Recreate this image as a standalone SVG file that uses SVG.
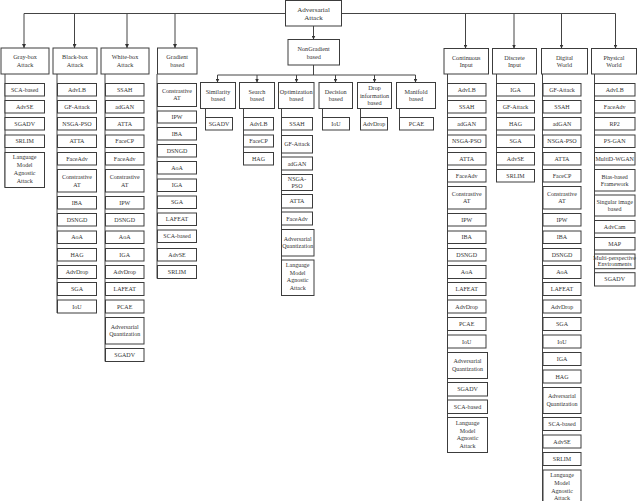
<svg xmlns="http://www.w3.org/2000/svg" width="640" height="501" viewBox="0 0 640 501">
<style>
rect{fill:#fff;stroke:#3c3c3c;stroke-width:1}
text{font-family:"Liberation Serif","Times New Roman",serif;font-size:6px;fill:#333;text-anchor:middle}
.h text{font-size:6.2px}
.top text{font-size:7px}
#connectors line,#connectors polyline{stroke:#444;stroke-width:1;fill:none}
</style>
<defs>
<marker id="ar" markerWidth="4" markerHeight="4" refX="4" refY="2" orient="auto" markerUnits="userSpaceOnUse">
<path d="M0,0 L4,2 L0,4 Z" fill="#333"/>
</marker>
</defs>
<rect x="0" y="0" width="640" height="501" style="fill:#fff;stroke:none"/>
<g id="connectors">
<line x1="24" y1="13.5" x2="615.5" y2="13.5"/>
<line x1="24" y1="13.5" x2="24" y2="48" marker-end="url(#ar)"/>
<line x1="74.5" y1="13.5" x2="74.5" y2="48" marker-end="url(#ar)"/>
<line x1="127" y1="13.5" x2="127" y2="48" marker-end="url(#ar)"/>
<line x1="175" y1="13.5" x2="175" y2="48" marker-end="url(#ar)"/>
<line x1="465.5" y1="13.5" x2="465.5" y2="48.5" marker-end="url(#ar)"/>
<line x1="514" y1="13.5" x2="514" y2="48.5" marker-end="url(#ar)"/>
<line x1="561.5" y1="13.5" x2="561.5" y2="48.5" marker-end="url(#ar)"/>
<line x1="615.5" y1="13.5" x2="615.5" y2="48.5" marker-end="url(#ar)"/>
<line x1="313.5" y1="26" x2="313.5" y2="39.5" marker-end="url(#ar)"/>
<line x1="313.5" y1="65" x2="313.5" y2="75"/>
<line x1="217.5" y1="75" x2="415.5" y2="75"/>
<line x1="217.5" y1="75" x2="217.5" y2="82.5" marker-end="url(#ar)"/>
<line x1="257" y1="75" x2="257" y2="82.5" marker-end="url(#ar)"/>
<line x1="296.5" y1="75" x2="296.5" y2="82.5" marker-end="url(#ar)"/>
<line x1="335.5" y1="75" x2="335.5" y2="82.5" marker-end="url(#ar)"/>
<line x1="374.5" y1="75" x2="374.5" y2="82.5" marker-end="url(#ar)"/>
<line x1="415.5" y1="75" x2="415.5" y2="82.5" marker-end="url(#ar)"/>
<line x1="5" y1="74" x2="5" y2="187.5"/>
<line x1="57" y1="74" x2="57" y2="313"/>
<line x1="105" y1="74" x2="105" y2="361.5"/>
<line x1="157" y1="74" x2="157" y2="278.5"/>
<line x1="205.5" y1="108.5" x2="205.5" y2="130"/>
<line x1="243.5" y1="108.5" x2="243.5" y2="165"/>
<line x1="281.5" y1="108.5" x2="281.5" y2="295.5"/>
<line x1="322.5" y1="108.5" x2="322.5" y2="130"/>
<line x1="360.5" y1="108.5" x2="360.5" y2="130"/>
<line x1="399.5" y1="108.5" x2="399.5" y2="130"/>
<line x1="447.5" y1="74" x2="447.5" y2="452.5"/>
<line x1="496.5" y1="74" x2="496.5" y2="182"/>
<line x1="542.5" y1="74" x2="542.5" y2="501"/>
<line x1="594.5" y1="74" x2="594.5" y2="286"/>
</g>

<g id="root" class="top"><rect x="285.5" y="0.5" width="56" height="25.5"/><text x="313.5" y="11.6">Adversarial</text><text x="313.5" y="20">Attack</text></g>

<g id="graybox" class="h"><rect x="1" y="48" width="48" height="26"/><text x="25" y="59.3">Gray-box</text><text x="25" y="67">Attack</text></g>
<g id="blackbox" class="h"><rect x="53" y="48" width="44" height="26"/><text x="75" y="59.3">Black-box</text><text x="75" y="67">Attack</text></g>
<g id="whitebox" class="h"><rect x="101" y="48" width="48" height="26"/><text x="125" y="59.3">White-box</text><text x="125" y="67">Attack</text></g>
<g id="gradient" class="h"><rect x="157.5" y="48" width="39.5" height="26"/><text x="177.2" y="59.3">Gradient</text><text x="177.2" y="67">based</text></g>
<g id="nongradient" class="h"><rect x="288" y="39.5" width="51.5" height="25.5"/><text x="313.7" y="51">NonGradient</text><text x="313.7" y="58.5">based</text></g>
<g id="similarity" class="h"><rect x="200.5" y="82.5" width="35" height="26"/><text x="218" y="94">Similarity</text><text x="218" y="101.3">based</text></g>
<g id="search" class="h"><rect x="239.5" y="82.5" width="35" height="26"/><text x="257" y="94">Search</text><text x="257" y="101.3">based</text></g>
<g id="optimization" class="h"><rect x="278.5" y="82.5" width="35.5" height="26"/><text x="296.2" y="94">Optimization</text><text x="296.2" y="101.3">based</text></g>
<g id="decision" class="h"><rect x="319" y="82.5" width="33.5" height="26"/><text x="335.7" y="94">Decision</text><text x="335.7" y="101.3">based</text></g>
<g id="drop" class="h"><rect x="357.5" y="82.5" width="34" height="26"/><text x="374.5" y="90.3">Drop</text><text x="374.5" y="97.7">information</text><text x="374.5" y="105.2">based</text></g>
<g id="manifold" class="h"><rect x="396.5" y="82.5" width="39" height="26"/><text x="416" y="94">Manifold</text><text x="416" y="101.3">based</text></g>
<g id="continuous" class="h"><rect x="444" y="48.5" width="44.5" height="25.5"/><text x="466.2" y="59.5">Continuous</text><text x="466.2" y="67.2">Input</text></g>
<g id="discrete" class="h"><rect x="492.5" y="48.5" width="44" height="25.5"/><text x="514.5" y="59.5">Discrete</text><text x="514.5" y="67.2">Input</text></g>
<g id="digital" class="h"><rect x="541.5" y="48.5" width="46" height="25.5"/><text x="564.5" y="59.5">Digital</text><text x="564.5" y="67.2">World</text></g>
<g id="physical" class="h"><rect x="591.5" y="48.5" width="45" height="25.5"/><text x="614" y="59.5">Physical</text><text x="614" y="67.2">World</text></g>

<!-- Gray-box children -->
<g id="g1"><rect x="5" y="83.5" width="39.5" height="12.5"/><text x="24.7" y="91.8">SCA-based</text></g>
<g id="g2"><rect x="5" y="100.5" width="39.5" height="12.5"/><text x="24.7" y="108.8">AdvSE</text></g>
<g id="g3"><rect x="5" y="117.5" width="39.5" height="12.5"/><text x="24.7" y="125.8">SGADV</text></g>
<g id="g4"><rect x="5" y="135" width="39.5" height="12.5"/><text x="24.7" y="143.3">SRLIM</text></g>
<g id="g5"><rect x="5" y="152.5" width="39.5" height="35"/><text x="24.7" y="158.8">Language</text><text x="24.7" y="166.8">Model</text><text x="24.7" y="174.6">Agnostic</text><text x="24.7" y="182.6">Attack</text></g>

<!-- Black-box children -->
<g id="b1"><rect x="57.5" y="83.5" width="39" height="12.5"/><text x="77" y="91.8">AdvLB</text></g>
<g id="b2"><rect x="57.5" y="100.5" width="39" height="12.5"/><text x="77" y="108.8">GF-Attack</text></g>
<g id="b3"><rect x="57.5" y="117.5" width="39" height="12.5"/><text x="77" y="125.8">NSGA-PSO</text></g>
<g id="b4"><rect x="57.5" y="135" width="39" height="12.5"/><text x="77" y="143.3">ATTA</text></g>
<g id="b5"><rect x="57.5" y="152.5" width="39" height="12.5"/><text x="77" y="160.8">FaceAdv</text></g>
<g id="b6"><rect x="57.5" y="169.5" width="39" height="22.5"/><text x="77" y="179">Constrastive</text><text x="77" y="186.5">AT</text></g>
<g id="b7"><rect x="57.5" y="196.5" width="39" height="12.5"/><text x="77" y="204.8">IBA</text></g>
<g id="b8"><rect x="57.5" y="213.5" width="39" height="12.5"/><text x="77" y="221.8">DSNGD</text></g>
<g id="b9"><rect x="57.5" y="231" width="39" height="12.5"/><text x="77" y="239.3">AoA</text></g>
<g id="b10"><rect x="57.5" y="248.5" width="39" height="12.5"/><text x="77" y="256.8">HAG</text></g>
<g id="b11"><rect x="57.5" y="265.5" width="39" height="13"/><text x="77" y="274">AdvDrop</text></g>
<g id="b12"><rect x="57.5" y="282.5" width="39" height="13"/><text x="77" y="291">SGA</text></g>
<g id="b13"><rect x="57.5" y="300" width="39" height="13"/><text x="77" y="308.5">IoU</text></g>

<!-- White-box children -->
<g id="w1"><rect x="105.5" y="83.5" width="38.5" height="12.5"/><text x="124.7" y="91.8">SSAH</text></g>
<g id="w2"><rect x="105.5" y="100.5" width="38.5" height="12.5"/><text x="124.7" y="108.8">adGAN</text></g>
<g id="w3"><rect x="105.5" y="117.5" width="38.5" height="12.5"/><text x="124.7" y="125.8">ATTA</text></g>
<g id="w4"><rect x="105.5" y="135" width="38.5" height="12.5"/><text x="124.7" y="143.3">FaceCP</text></g>
<g id="w5"><rect x="105.5" y="152.5" width="38.5" height="12.5"/><text x="124.7" y="160.8">FaceAdv</text></g>
<g id="w6"><rect x="105.5" y="169.5" width="38.5" height="22.5"/><text x="124.7" y="179">Constrastive</text><text x="124.7" y="186.5">AT</text></g>
<g id="w7"><rect x="105.5" y="196.5" width="38.5" height="12.5"/><text x="124.7" y="204.8">IPW</text></g>
<g id="w8"><rect x="105.5" y="213.5" width="38.5" height="12.5"/><text x="124.7" y="221.8">DSNGD</text></g>
<g id="w9"><rect x="105.5" y="231" width="38.5" height="12.5"/><text x="124.7" y="239.3">AoA</text></g>
<g id="w10"><rect x="105.5" y="248.5" width="38.5" height="12.5"/><text x="124.7" y="256.8">IGA</text></g>
<g id="w11"><rect x="105.5" y="265.5" width="38.5" height="13"/><text x="124.7" y="274">AdvDrop</text></g>
<g id="w12"><rect x="105.5" y="282.5" width="38.5" height="13"/><text x="124.7" y="291">LAFEAT</text></g>
<g id="w13"><rect x="105.5" y="300" width="38.5" height="13"/><text x="124.7" y="308.5">PCAE</text></g>
<g id="w14"><rect x="105.5" y="317.5" width="38.5" height="26.5"/><text x="124.7" y="329.3">Adversarial</text><text x="124.7" y="336.3">Quantization</text></g>
<g id="w15"><rect x="105.5" y="348.5" width="38.5" height="13"/><text x="124.7" y="357">SGADV</text></g>

<!-- Gradient children -->
<g id="gr1"><rect x="157.5" y="83.5" width="39" height="23"/><text x="177" y="92.8">Constrastive</text><text x="177" y="100.3">AT</text></g>
<g id="gr2"><rect x="157.5" y="111" width="39" height="12"/><text x="177" y="119">IPW</text></g>
<g id="gr3"><rect x="157.5" y="127.5" width="39" height="12.5"/><text x="177" y="135.8">IBA</text></g>
<g id="gr4"><rect x="157.5" y="144.5" width="39" height="12.5"/><text x="177" y="152.8">DSNGD</text></g>
<g id="gr5"><rect x="157.5" y="161.5" width="39" height="12.5"/><text x="177" y="169.8">AoA</text></g>
<g id="gr6"><rect x="157.5" y="179" width="39" height="12.5"/><text x="177" y="187.3">IGA</text></g>
<g id="gr7"><rect x="157.5" y="196" width="39" height="12.5"/><text x="177" y="204.3">SGA</text></g>
<g id="gr8"><rect x="157.5" y="213" width="39" height="12.5"/><text x="177" y="221.3">LAFEAT</text></g>
<g id="gr9"><rect x="157.5" y="230" width="39" height="12.5"/><text x="177" y="238.3">SCA-based</text></g>
<g id="gr10"><rect x="157.5" y="248.5" width="39" height="12.5"/><text x="177" y="256.8">AdvSE</text></g>
<g id="gr11"><rect x="157.5" y="265.5" width="39" height="13"/><text x="177" y="274">SRLIM</text></g>

<!-- NonGradient sub children -->
<g id="s1"><rect x="205.5" y="117.5" width="27" height="12.5"/><text x="219" y="125.8">SGADV</text></g>
<g id="se1"><rect x="243.5" y="117.5" width="30" height="12.5"/><text x="258.5" y="125.8">AdvLB</text></g>
<g id="se2"><rect x="243.5" y="135" width="30" height="12"/><text x="258.5" y="143">FaceCP</text></g>
<g id="se3"><rect x="243.5" y="152.5" width="30" height="12.5"/><text x="258.5" y="160.8">HAG</text></g>
<g id="o1"><rect x="281.5" y="117.5" width="31" height="12.5"/><text x="297" y="125.8">SSAH</text></g>
<g id="o2"><rect x="281.5" y="135.5" width="31" height="17.5"/><text x="297" y="146.3">GF-Attack</text></g>
<g id="o3"><rect x="281.5" y="157" width="31" height="13"/><text x="297" y="165.5">adGAN</text></g>
<g id="o4"><rect x="281.5" y="174.5" width="31" height="16"/><text x="297" y="180.8">NSGA-</text><text x="297" y="188.3">PSO</text></g>
<g id="o5"><rect x="281.5" y="194.5" width="31" height="13.5"/><text x="297" y="203.3">ATTA</text></g>
<g id="o6"><rect x="281.5" y="212" width="31" height="13"/><text x="297" y="220.5">FaceAdv</text></g>
<g id="o7"><rect x="281.5" y="229.5" width="32.5" height="26.5"/><text x="297.7" y="240.8">Adversarial</text><text x="297.7" y="248.3">Quantization</text></g>
<g id="o8"><rect x="281.5" y="260" width="32.5" height="35.5"/><text x="297.7" y="267">Language</text><text x="297.7" y="274.5">Model</text><text x="297.7" y="282">Agnostic</text><text x="297.7" y="290.3">Attack</text></g>
<g id="d1"><rect x="322.5" y="117.5" width="27" height="12.5"/><text x="336" y="125.8">IoU</text></g>
<g id="dr1"><rect x="360.5" y="117.5" width="27" height="12.5"/><text x="374" y="125.8">AdvDrop</text></g>
<g id="m1"><rect x="399.5" y="117.5" width="34" height="12.5"/><text x="416.5" y="125.8">PCAE</text></g>

<!-- Continuous children -->
<g id="c1"><rect x="447.5" y="83.5" width="38.5" height="12.5"/><text x="466.7" y="91.8">AdvLB</text></g>
<g id="c2"><rect x="447.5" y="100.5" width="38.5" height="12.5"/><text x="466.7" y="108.8">SSAH</text></g>
<g id="c3"><rect x="447.5" y="117.5" width="38.5" height="12.5"/><text x="466.7" y="125.8">adGAN</text></g>
<g id="c4"><rect x="447.5" y="135" width="38.5" height="12.5"/><text x="466.7" y="143.3">NSGA-PSO</text></g>
<g id="c5"><rect x="447.5" y="152.5" width="38.5" height="12.5"/><text x="466.7" y="160.8">ATTA</text></g>
<g id="c6"><rect x="447.5" y="169.5" width="38.5" height="12.5"/><text x="466.7" y="177.8">FaceAdv</text></g>
<g id="c7"><rect x="447.5" y="186.5" width="38.5" height="22.5"/><text x="466.7" y="195.8">Constrastive</text><text x="466.7" y="203.3">AT</text></g>
<g id="c8"><rect x="447.5" y="213.5" width="38.5" height="12.5"/><text x="466.7" y="221.8">IPW</text></g>
<g id="c9"><rect x="447.5" y="231" width="38.5" height="12.5"/><text x="466.7" y="239.3">IBA</text></g>
<g id="c10"><rect x="447.5" y="248.5" width="38.5" height="12.5"/><text x="466.7" y="256.8">DSNGD</text></g>
<g id="c11"><rect x="447.5" y="265.5" width="38.5" height="13"/><text x="466.7" y="274">AoA</text></g>
<g id="c12"><rect x="447.5" y="282.5" width="38.5" height="13"/><text x="466.7" y="291">LAFEAT</text></g>
<g id="c13"><rect x="447.5" y="300" width="38.5" height="13"/><text x="466.7" y="308.5">AdvDrop</text></g>
<g id="c14"><rect x="447.5" y="317.5" width="38.5" height="13"/><text x="466.7" y="326">PCAE</text></g>
<g id="c15"><rect x="447.5" y="335" width="38.5" height="13"/><text x="466.7" y="343.5">IoU</text></g>
<g id="c16"><rect x="447.5" y="352.5" width="40" height="26"/><text x="467.5" y="363.3">Adversarial</text><text x="467.5" y="370.8">Quantization</text></g>
<g id="c17"><rect x="447.5" y="382.5" width="40" height="13.5"/><text x="467.5" y="391.3">SGADV</text></g>
<g id="c18"><rect x="447.5" y="400" width="40" height="13.5"/><text x="467.5" y="408.8">SCA-based</text></g>
<g id="c19"><rect x="447.5" y="417.5" width="40" height="35"/><text x="467.5" y="425">Language</text><text x="467.5" y="432.5">Model</text><text x="467.5" y="440">Agnostic</text><text x="467.5" y="448">Attack</text></g>

<!-- Discrete children -->
<g id="di1"><rect x="496.5" y="83.5" width="38" height="12.5"/><text x="515.5" y="91.8">IGA</text></g>
<g id="di2"><rect x="496.5" y="100.5" width="38" height="12.5"/><text x="515.5" y="108.8">GF-Attack</text></g>
<g id="di3"><rect x="496.5" y="117.5" width="38" height="12.5"/><text x="515.5" y="125.8">HAG</text></g>
<g id="di4"><rect x="496.5" y="135" width="38" height="12.5"/><text x="515.5" y="143.3">SGA</text></g>
<g id="di5"><rect x="496.5" y="152.5" width="38" height="12.5"/><text x="515.5" y="160.8">AdvSE</text></g>
<g id="di6"><rect x="496.5" y="169.5" width="38" height="12.5"/><text x="515.5" y="177.8">SRLIM</text></g>

<!-- Digital children -->
<g id="dg1"><rect x="543" y="83.5" width="38" height="12.5"/><text x="562" y="91.8">GF-Attack</text></g>
<g id="dg2"><rect x="543" y="100.5" width="38" height="12.5"/><text x="562" y="108.8">SSAH</text></g>
<g id="dg3"><rect x="543" y="117.5" width="38" height="12.5"/><text x="562" y="125.8">adGAN</text></g>
<g id="dg4"><rect x="543" y="135" width="38" height="12.5"/><text x="562" y="143.3">NSGA-PSO</text></g>
<g id="dg5"><rect x="543" y="152.5" width="38" height="12.5"/><text x="562" y="160.8">ATTA</text></g>
<g id="dg6"><rect x="543" y="169.5" width="38" height="12.5"/><text x="562" y="177.8">FaceCP</text></g>
<g id="dg7"><rect x="543" y="186.5" width="38" height="22.5"/><text x="562" y="195.8">Constrastive</text><text x="562" y="203.3">AT</text></g>
<g id="dg8"><rect x="543" y="213.5" width="38" height="12.5"/><text x="562" y="221.8">IPW</text></g>
<g id="dg9"><rect x="543" y="231" width="38" height="12.5"/><text x="562" y="239.3">IBA</text></g>
<g id="dg10"><rect x="543" y="248.5" width="38" height="12.5"/><text x="562" y="256.8">DSNGD</text></g>
<g id="dg11"><rect x="543" y="265.5" width="38" height="13"/><text x="562" y="274">AoA</text></g>
<g id="dg12"><rect x="543" y="282.5" width="38" height="13"/><text x="562" y="291">LAFEAT</text></g>
<g id="dg13"><rect x="543" y="300" width="38" height="13"/><text x="562" y="308.5">AdvDrop</text></g>
<g id="dg14"><rect x="543" y="317.5" width="38" height="13"/><text x="562" y="326">SGA</text></g>
<g id="dg15"><rect x="543" y="335" width="38" height="13"/><text x="562" y="343.5">IoU</text></g>
<g id="dg16"><rect x="543" y="352.5" width="38" height="13"/><text x="562" y="361">IGA</text></g>
<g id="dg17"><rect x="543" y="370" width="38" height="13"/><text x="562" y="378.5">HAG</text></g>
<g id="dg18"><rect x="543" y="387.5" width="38" height="26"/><text x="562" y="398.3">Adversarial</text><text x="562" y="405.8">Quantization</text></g>
<g id="dg19"><rect x="543" y="417.5" width="38" height="13"/><text x="562" y="426">SCA-based</text></g>
<g id="dg20"><rect x="543" y="435" width="38" height="13"/><text x="562" y="443.5">AdvSE</text></g>
<g id="dg21"><rect x="543" y="452.5" width="38" height="13"/><text x="562" y="461">SRLIM</text></g>
<g id="dg22"><rect x="543" y="470" width="38" height="35"/><text x="562" y="477.3">Language</text><text x="562" y="485.3">Model</text><text x="562" y="492.7">Agnostic</text><text x="562" y="500.3">Attack</text></g>

<!-- Physical children -->
<g id="p1"><rect x="594.5" y="83.5" width="40.5" height="12.5"/><text x="614.7" y="91.8">AdvLB</text></g>
<g id="p2"><rect x="594.5" y="100.5" width="40.5" height="12.5"/><text x="614.7" y="108.8">FaceAdv</text></g>
<g id="p3"><rect x="594.5" y="117.5" width="40.5" height="12.5"/><text x="614.7" y="125.8">RP2</text></g>
<g id="p4"><rect x="594.5" y="135" width="40.5" height="12.5"/><text x="614.7" y="143.3">PS-GAN</text></g>
<g id="p5"><rect x="594.5" y="152.5" width="40.5" height="12.5"/><text x="614.7" y="160.8">MultiD-WGAN</text></g>
<g id="p6"><rect x="594.5" y="169.5" width="40.5" height="21.5"/><text x="614.7" y="178.5">Bias-based</text><text x="614.7" y="186">Framework</text></g>
<g id="p7"><rect x="594.5" y="195" width="40.5" height="21"/><text x="614.7" y="203.8">Singular image</text><text x="614.7" y="211.3">based</text></g>
<g id="p8"><rect x="594.5" y="220.5" width="40.5" height="12.5"/><text x="614.7" y="228.8">AdvCam</text></g>
<g id="p9"><rect x="594.5" y="237.5" width="40.5" height="12.5"/><text x="614.7" y="245.8">MAP</text></g>
<g id="p10"><rect x="594.5" y="254" width="40.5" height="14.7"/><text x="614.7" y="259.6">Multi-perspective</text><text x="614.7" y="266.3">Environments</text></g>
<g id="p11"><rect x="594.5" y="272.7" width="40.5" height="13.3"/><text x="614.7" y="281.3">SGADV</text></g>
</svg>
